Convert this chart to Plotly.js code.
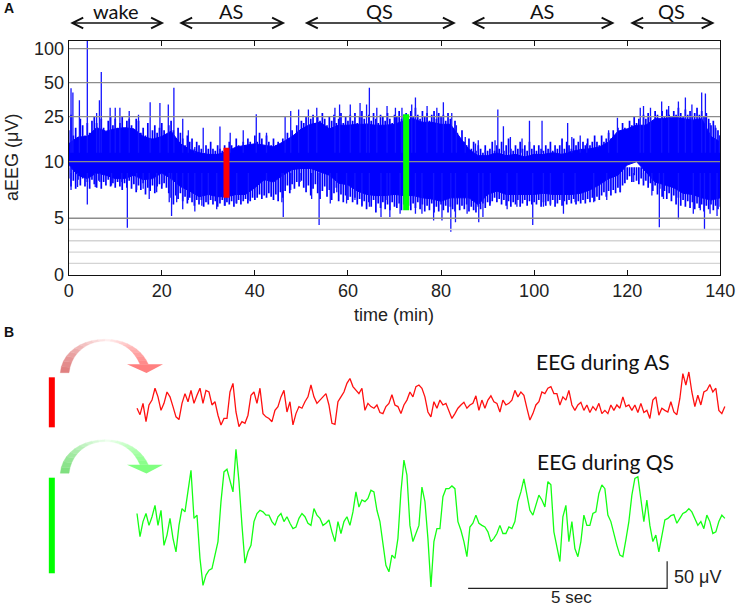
<!DOCTYPE html>
<html>
<head>
<meta charset="utf-8">
<script src="https://cdn.plot.ly/plotly-3.0.1.min.js"></script>
<style>html,body{margin:0;padding:0;background:#fff}</style>
</head>
<body>
<div id="chart" style="width:737px;height:608px"></div>
<script>
// panel A: solid middle of the aEEG trace, read every 2 min (uV)
const coreTime = [0,2,4,6,8,10,12,14,16,18,20,22,24,26,28,30,32,34,36,38,40,42,44,46,48,50,52,54,56,58,60,62,64,66,68,70,72,74,76,78,80,82,84,86,88,90,92,94,96,98,100,102,104,106,108,110,112,114,116,118,120,122,124,126,128,130,132,134,136,138,140]
const coreUpper = [14.4,16.5,16.7,20,18.6,19.5,20,19.5,16.7,15.8,16.7,18.6,14.4,12.8,12,11.6,11.6,12.3,13.5,14,14.4,14,13.5,14.9,16.7,19.5,21.4,22.3,19.5,21,21,21.4,21.4,21,21,21.4,23,24,22.3,22.3,21.4,21.4,16.7,12.8,11.3,11.3,12,11.3,11.6,11,11.6,11.6,12,11.6,12.3,12.8,13,13.5,14.9,18.6,19.5,21,21,24,24,25,24,23.3,24,16.7,14.9]
const coreLower = [9.7,8.8,8.5,9,8.8,8.5,8.5,8.8,8.4,8.5,9,8.5,7.8,7.4,6.9,7.1,6.9,6.9,7.1,7.1,7.7,8.4,8.2,8.8,9.3,9.4,9.4,9.1,8.8,8.1,7.95,7.4,7.1,7,7,7.1,7,7,6.8,6.7,6.5,6.8,6.8,6.8,6.2,7.1,7.4,7.1,7.1,7.1,7.1,7.2,7.1,7.1,7.1,7.2,7.5,7.95,8.5,8.8,9.7,10,9.1,8.2,7.95,7.7,7.2,7.1,6.8,6.6,6.8]

// ragged edge of the band, one reading per half minute from 0 to 140 min (uV)
const fringeUpper = [19,26,17,20,16,24,21,17,22,18,23,25,22,19,24,20,18,23,25,21,24,
20,22,25,19,23,24,21,19,24,23,18,20,17,22,16,19,21,18,20,22,
19,17,21,23,19,15,20,18,16,14,17,15,16,13,15,14,13,12,14,13,
15,13,12.5,14,13,12.5,14,13,15,14,13,16,14,13,15,14,16,15,14,17,
15,18,16,14,17,15,14,16,14,15,13,16,15,18,16,19,17,21,19,23,
22,25,21,24,26,22,25,23,27,24,21,25,23,26,22,24,27,22,25,23,
26,23,27,22,25,28,24,22,26,23,27,24,22,26,25,23,27,24,22,26,
25,28,24,26,27,23,28,25,30,26,24,28,25,27,23,26,28,24,27,25,
26,23,27,24,20,23,18,16,19,15,14,16,13,15,12.5,14,13,12,14,12.5,
13,15,12.5,14,13,15,12.5,14,16,13,12.5,14,13,15,13,14,12.5,15,13,14,
12.5,14,13,12.5,14,13,15,12.5,14,13,14,16,13,15,14,13,16,14,15,13,
15,14,16,14,15,17,15,14,17,15,16,18,16,19,17,20,18,22,20,19,
23,21,25,22,24,21,26,24,27,25,23,28,26,24,28,25,29,26,24,28,
26,30,27,25,29,26,28,25,27,30,26,28,25,27,24,21,23,20,19,17]
const fringeLower = [8.5,7.8,8.3,7.6,8.4,7.9,8.5,7.8,8.2,7.6,8.4,8,7.7,8.3,7.6,8.2,7.9,8.4,7.8,8.1,7.7,
8.2,7.8,7.5,8.1,7.7,8.3,7.6,8,7.3,7.9,7.5,8.1,7.1,7.7,7.4,7.9,7.2,7.8,8,7.6,
8.1,7.7,7.2,6.8,6.2,7,6.7,7.2,6.5,6.9,6.3,6.8,6.4,6.1,6.6,6.2,6.6,6,6.4,6.2,
6.6,6.2,6.5,6,6.3,6.6,6.1,6.4,6.2,6.5,6,6.3,6.6,6.2,6.5,6.7,6.3,6.5,6.8,6.6,
6.8,7.1,6.7,7,6.8,7.2,6.9,6.6,7.1,6.5,7.3,6.8,7.4,7.9,7.2,8,7.6,8.2,7.8,8.3,
7.7,7.3,7.9,7,7.6,8,7.2,6.7,7.4,7.8,6.9,7.5,6.6,7.2,7.7,6.5,7.1,6.4,7,6.6,
6.9,6.4,6.8,6.2,6.7,6.1,6.5,5.8,6.4,6,6.6,5.5,6.3,5.9,6.4,5.8,6.2,5.7,6.4,6,
5.9,6.3,5.7,6.2,5.8,6.1,5.7,6.3,5.9,6.4,5.8,6.2,5.6,6.1,5.7,6.3,5.5,6,5.6,6.2,
5.7,6.1,5.5,6,5.8,5.6,6.2,5.7,6.1,5.8,6.2,5.6,6,5.7,5.5,6,5.8,6.3,5.9,6.4,
6.1,6.5,6.8,6.4,6.7,6.2,6.6,6.1,6.5,6,6.4,6.2,6.6,6,6.3,6.6,6.1,6.5,6.2,6.4,
6.2,6.6,6,6.4,6.1,6.5,6.2,6.6,6,6.3,6.6,6.1,6.5,6.2,6.6,6.3,6.7,6.2,6.5,6.3,
6.6,6.3,6.7,6.4,6.8,6.5,6.9,6.6,7,7.3,6.9,7.4,7,7.5,7.2,7.7,7.3,7.9,8.1,8.4,
8.7,8.2,8.8,8.3,8,8.5,7.9,8.3,7.7,8.1,7.4,7.9,7.1,7.6,6.9,7.4,6.7,7.2,6.5,7,
6.2,6.8,6.1,6.6,6,6.5,5.9,6.4,5.8,6.3,5.9,6.2,5.6,6.1,5.8,6.2,5.7,6.1,5.8,6]

// the tall spikes (min, uV)
const upperSpikeTime = [0.5,0.9,2.3,4,6,6.6,7,8.9,10,11,13,15,17.5,19.6,21.4,22.6,24.5,25.7,27.1,28.9,32.5,34.7,37.5,40.3,42.5,46.5,47.7,49.4,51.5,53.3,57.2,58.2,60.5,62.6,64,64.6,66.2,68.4,70.2,71.6,73.7,74.5,77,79.1,80.5,82.3,83.3,85.2,87.4,88,89.5,91.6,92.2,93.4,94.9,97.4,99,101.7,103.5,107.2,108.1,109.9,111.3,116,117.9,122.8,123.5,125,127.4,128.9,131,132.5,133.9,136,136.8,137.8,138.9,139.8]
const upperSpikeValue = [44.5,41,35,118,27,35,62,30,30,30,28,26,33.5,33,32,45,24,19,13.5,20,20.5,18,19,26.3,18,25,28,29,29,30,30,32,32,33,32,45,30,31,30,30,32,37,31,30,33.5,27,21,16.5,14.5,15.5,12.6,15.5,29,20.6,16.5,16,23,23,13,22,16.5,17,14.5,19,24.5,30,31,30,34,31,34,37,32,41,40,22,21,17]
const lowerSpikeTime = [0.5,1.9,4,5.7,6.7,9.2,11.4,12.6,14.6,16,17.3,18.9,20,21.6,22.1,23.2,24.5,25.7,27.1,28.6,30,31.8,33.6,36.1,38.6,42.5,45.8,46.1,47.7,49.7,52.2,53.8,56.2,57.6,59.7,61.5,63,64.6,67.1,68.4,69,71.2,74.5,75.9,78.4,80.2,82.1,83.1,85.6,88.1,89,90.6,94.2,96.3,99.7,102,103.5,106.3,108.8,112.8,115.6,118.5,121.4,123.5,125.3,126.9,127.8,131,134.2,135.7,136.6,137.8,139.3]
const lowerSpikeValue = [7.5,7.75,6.2,7.75,8.2,7.9,8.2,4.15,7.5,7.6,6.7,7.3,7.9,6.4,5.2,6.4,5.8,6.6,5.6,6.1,6.4,5.8,6.1,6.3,6.6,7.2,6.4,5.1,7.5,8.2,6.7,4.4,6.3,7.3,6.3,6.6,6,6,5.1,6.6,5.1,5.4,5.4,5.4,4.8,4.8,3.8,4.65,5.4,4.65,5.1,6.3,5.8,6,4.4,6,6.1,5.4,6.4,6.4,6.6,7.3,8.2,8.3,7,4.2,6.7,4.9,5.4,5.7,4.05,5.4,5.2]

const yTickValues = [0,5,10,25,50,100]
const majorGrid = [5,10,25,50,100]
const minorGrid = [1,2,3,4]
const xTicks = [0,20,40,60,80,100,120,140]

// epochs marked on the aEEG and the states above it
const stateLabels = ['wake','AS','QS','AS','QS']
const stateStart = [0,23.4,50.4,86.2,120.3]
const stateEnd = [20.5,46.5,83.2,117.3,138.8]
const asEpochTime = 33.9, asEpochRange = [6.81,13.3]
const qsEpochTime = 72.5, qsEpochRange = [5.7,26.2]

// panel B: raw EEG, uV around each trace's own baseline
const eegAS = [-2,-14,7,-27,4,13,35,19,-6,7,28,19,1,-18,-23,7,25,10,31,7,22,35,7,31,28,4,10,-15,-33,-21,-21,28,44,-9,-36,-27,-30,-15,22,28,7,35,-12,-18,-21,-27,-6,1,19,31,-9,10,-33,-12,1,-2,10,19,41,19,7,13,19,25,4,-30,-32,10,19,28,44,53,38,31,25,35,-6,
7,1,-2,4,-10,-12,1,7,23,4,1,-12,4,13,28,19,38,41,35,19,-9,-18,10,-2,13,4,7,-6,-21,-12,-2,4,9,-2,4,7,21,-6,13,-2,13,21,10,7,-9,13,4,7,13,31,19,28,22,-2,-24,-12,4,10,28,25,35,38,25,25,4,19,13,31,4,-6,4,9,-6,4,-10,1,-6,7,-12,-6,-12,4,-6,4,-2,19,1,4,-6,4,-10,7,-10,-6,-21,13,19,-15,-2,-6,-9,10,-9,-14,16,62,41,65,28,1,22,4,28,31,42,28,35,-6,-12,1]
const eegQS = [-34,-77,-49,-34,-56,-40,-19,-56,-28,-93,-74,-43,-80,-105,-56,-25,-31,6,46,-43,-37,-117,-167,-148,-139,-136,-111,-86,-12,43,48,25,6,85,25,-56,-126,-105,-93,-49,-34,-28,-31,-37,-37,-49,-56,-40,-34,-49,-40,-52,-62,-59,-43,-34,-40,-52,-56,-25,-37,-43,-56,-52,-46,-68,-86,-49,-71,-49,-40,-56,-31,6,-22,-9,-12,
-6,9,6,-28,-49,-86,-130,-142,-111,-117,-80,6,65,37,-56,-86,-71,-56,15,-12,-80,-170,-86,-62,-62,-3,12,12,17,12,-49,-65,-86,-114,-59,-52,-37,-52,-56,-59,-68,-86,-80,-71,-56,-71,-71,-59,-62,-49,-12,6,30,0,-28,-37,-19,0,-9,-22,25,19,-68,-93,-123,-40,-19,-86,-49,-99,-114,-86,-37,-56,-56,-34,-31,3,19,12,-37,-49,-74,-93,-111,-114,-83,-49,0,31,34,-12,-49,-9,-56,-86,-74,-105,-74,-46,-43,-38,-36,-52,-43,-34,-31,-25,-31,-43,-56,-49,-62,-37,-49,-71,-68,-49,-37,-43]
const eegDuration = 14.77
const eegBaseAS = 372, eegBaseQS = 209
const scaleBarTime = [8.32,13.32,13.32]
const scaleBarVolt = [36.5,36.5,86.5]
const barTime = -2.14
const asBarVolt = [334.6,427.2]
const qsBarVolt = [64.3,241.3]

const W = 737, H = 608
const px = x => x / W
const py = y => 1 - y / H

// 0-10 uV linear, log above, as aEEG paper is drawn
const aeeg = v => v <= 10 ? v : 10 + 10 * Math.log10(v / 10)

function vlines(times, values, from) {
    const x = [], y = []
    times.forEach((t, i) => {
        x.push(t, t, null)
        y.push(aeeg(from), aeeg(values[i]), null)
    })
    return {x, y}
}

function hgrid(values) {
    const x = [], y = []
    values.forEach(v => {
        x.push(0, 140, null)
        y.push(aeeg(v), aeeg(v), null)
    })
    return {x, y}
}

const blue = '#0000ff'
const halfMinutes = fringeUpper.map((v, i) => i * 0.5)
const spikeLine = {color: '#1414ff', width: 1.3}
const fringeLine = {color: blue, width: 1.7}
const data = [
    {x: coreTime.concat(coreTime.slice().reverse()), y: coreUpper.concat(coreLower.slice().reverse()).map(aeeg),
     mode: 'lines', fill: 'toself', fillcolor: blue, line: {color: blue, width: 1}},
    {...vlines(halfMinutes, fringeUpper, 11), mode: 'lines', line: fringeLine},
    {...vlines(halfMinutes, fringeLower, 9.5), mode: 'lines', line: fringeLine},
    {...vlines(upperSpikeTime, upperSpikeValue, 12), mode: 'lines', line: spikeLine},
    {...vlines(lowerSpikeTime, lowerSpikeValue, 9), mode: 'lines', line: spikeLine},
    {...hgrid(minorGrid), mode: 'lines', line: {color: '#d4d4d4', width: 1.4}},
    {...hgrid(majorGrid), mode: 'lines', line: {color: '#8c8c8c', width: 1.4}},
    {x: [asEpochTime, asEpochTime], y: asEpochRange.map(aeeg), mode: 'lines', line: {color: '#ff0000', width: 6}},
    {x: [qsEpochTime, qsEpochTime], y: qsEpochRange.map(aeeg), mode: 'lines', line: {color: '#00ff00', width: 6}},
    {x: eegAS.map((v, i) => i * eegDuration / (eegAS.length - 1)), y: eegAS.map(v => v + eegBaseAS), xaxis: 'x2', yaxis: 'y2',
     mode: 'lines', line: {color: '#ff1010', width: 1.3}},
    {x: eegQS.map((v, i) => i * eegDuration / (eegQS.length - 1)), y: eegQS.map(v => v + eegBaseQS), xaxis: 'x2', yaxis: 'y2',
     mode: 'lines', line: {color: '#14ff14', width: 1.3}},
    {x: [barTime, barTime], y: asBarVolt, xaxis: 'x2', yaxis: 'y2', mode: 'lines', line: {color: '#ff0000', width: 6}},
    {x: [barTime, barTime], y: qsBarVolt, xaxis: 'x2', yaxis: 'y2', mode: 'lines', line: {color: '#00ff00', width: 6}},
    {x: scaleBarTime, y: scaleBarVolt, xaxis: 'x2', yaxis: 'y2', mode: 'lines', line: {color: '#222', width: 1.2}}
]

// curved arrows in panel B, cut in quads to fake the gradient
function bez(p, t) {
    const u = 1 - t
    return [0, 1].map(k => u*u*u*p[0][k] + 3*u*u*t*p[1][k] + 3*u*t*t*p[2][k] + t*t*t*p[3][k])
}
function swoosh(dy, c0, c1, c2) {
    const outer = [[[60.3,372.7],[62,352],[82,339.3],[105,339.3]], [[105,339.3],[127,339.3],[142,350],[148.3,364.3]]]
    const inner = [[[69,372.7],[71,354],[86,341],[105,341]], [[105,341],[122,341],[134,350],[140,364.3]]]
    const shapes = []
    const P = (p) => px(p[0]) + ',' + py(p[1] + dy)
    const mix = (a, b, t) => 'rgb(' + a.map((v, i) => Math.round(v + (b[i] - v) * t)).join(',') + ')'
    const N = 10
    ;[0, 1].forEach(seg => {
        for (let i = 0; i < N; i++) {
            const a = i / N, b = (i + 1) / N
            const path = 'M' + P(bez(outer[seg], a)) + 'L' + P(bez(outer[seg], b)) + 'L' + P(bez(inner[seg], b)) + 'L' + P(bez(inner[seg], a)) + 'Z'
            const col = seg == 0 ? mix(c0, c1, a) : mix(c1, c2, a)
            shapes.push({type: 'path', xref: 'paper', yref: 'paper', path, fillcolor: col, line: {color: col, width: 0.4}})
        }
    })
    shapes.push({type: 'path', xref: 'paper', yref: 'paper', path: 'M' + P([127,364.3]) + 'L' + P([163,364.3]) + 'L' + P([146.5,373]) + 'Z', fillcolor: mix(c2, c2, 0), line: {width: 0}})
    return shapes
}

const textFont = {family: 'Lato, sans-serif', size: 20, color: '#111'}
const eegFont = {family: 'Lato, sans-serif', size: 21, color: '#111'}
const axisFont = {family: '"Liberation Sans", Arial, sans-serif', size: 18, color: '#222'}
const secFont = {family: '"Liberation Sans", Arial, sans-serif', size: 17, color: '#222'}
const note = (text, x, y, font, anchor) => ({text, xref: 'paper', yref: 'paper', x: px(x), y: py(y), showarrow: false, font, xanchor: anchor || 'center', yanchor: 'middle'})

const annotations = [
    note('<b>A</b>', 2, 8, {family: '"Liberation Sans", sans-serif', size: 14, color: '#111'}, 'left'),
    note('<b>B</b>', 2, 332, {family: '"Liberation Sans", sans-serif', size: 14, color: '#111'}, 'left'),
    note('EEG during AS', 603, 361, eegFont),
    note('EEG during QS', 605, 462, eegFont),
    note('5 sec', 571, 597, secFont),
    note('50 \u03bcV', 672, 577, axisFont, 'left'),
    note('time (min)', 394, 315, axisFont),
    {text: 'aEEG (\u03bcV)', xref: 'paper', yref: 'paper', x: px(12), y: py(158), xanchor: 'center', yanchor: 'middle', showarrow: false, textangle: -90, font: axisFont}
]
stateLabels.forEach((s, i) => {
    annotations.push({text: s, xref: 'x', yref: 'paper', x: (stateStart[i] + stateEnd[i]) / 2, y: py(11), xanchor: 'center', yanchor: 'middle', showarrow: false, font: textFont})
    annotations.push({text: '', xref: 'x', yref: 'paper', x: stateEnd[i], y: py(23), axref: 'x', ax: stateStart[i], ayref: 'pixel', ay: 0,
        showarrow: true, arrowside: 'end+start', arrowhead: 5, arrowsize: 1.4, arrowwidth: 1.5, arrowcolor: '#111'})
})

const layout = {
    width: W, height: H,
    margin: {l: 0, r: 0, t: 0, b: 0},
    showlegend: false,
    paper_bgcolor: '#fff', plot_bgcolor: 'rgba(0,0,0,0)',
    font: axisFont,
    xaxis: {domain: [px(68.7), px(720.3)], range: [0, 140], tickmode: 'array', tickvals: xTicks, ticks: 'inside', ticklen: 5, tickcolor: '#111', tickwidth: 1,
        showline: true, mirror: 'ticks', linecolor: '#111', linewidth: 1.2, showgrid: false, zeroline: false, tickfont: axisFont},
    yaxis: {domain: [py(274.7), py(40.7)], range: [0, 20.7], tickmode: 'array', tickvals: yTickValues.map(aeeg), ticktext: yTickValues.map(String), ticks: '',
        showline: true, mirror: true, linecolor: '#111', linewidth: 1.2, showgrid: false, zeroline: false, tickfont: axisFont},
    xaxis2: {domain: [0, 1], range: [-137 / 39.8, 600 / 39.8], visible: false, anchor: 'y2'},
    yaxis2: {domain: [0, 1], range: [0, 608 / 0.54], visible: false, anchor: 'x2'},
    shapes: swoosh(0, [224,128,128], [255,238,238], [255,128,128]).concat(swoosh(100.5, [128,224,128], [238,255,238], [128,255,128])),
    annotations
}

Plotly.newPlot('chart', data, layout, {displayModeBar: false})
</script>
</body>
</html>
